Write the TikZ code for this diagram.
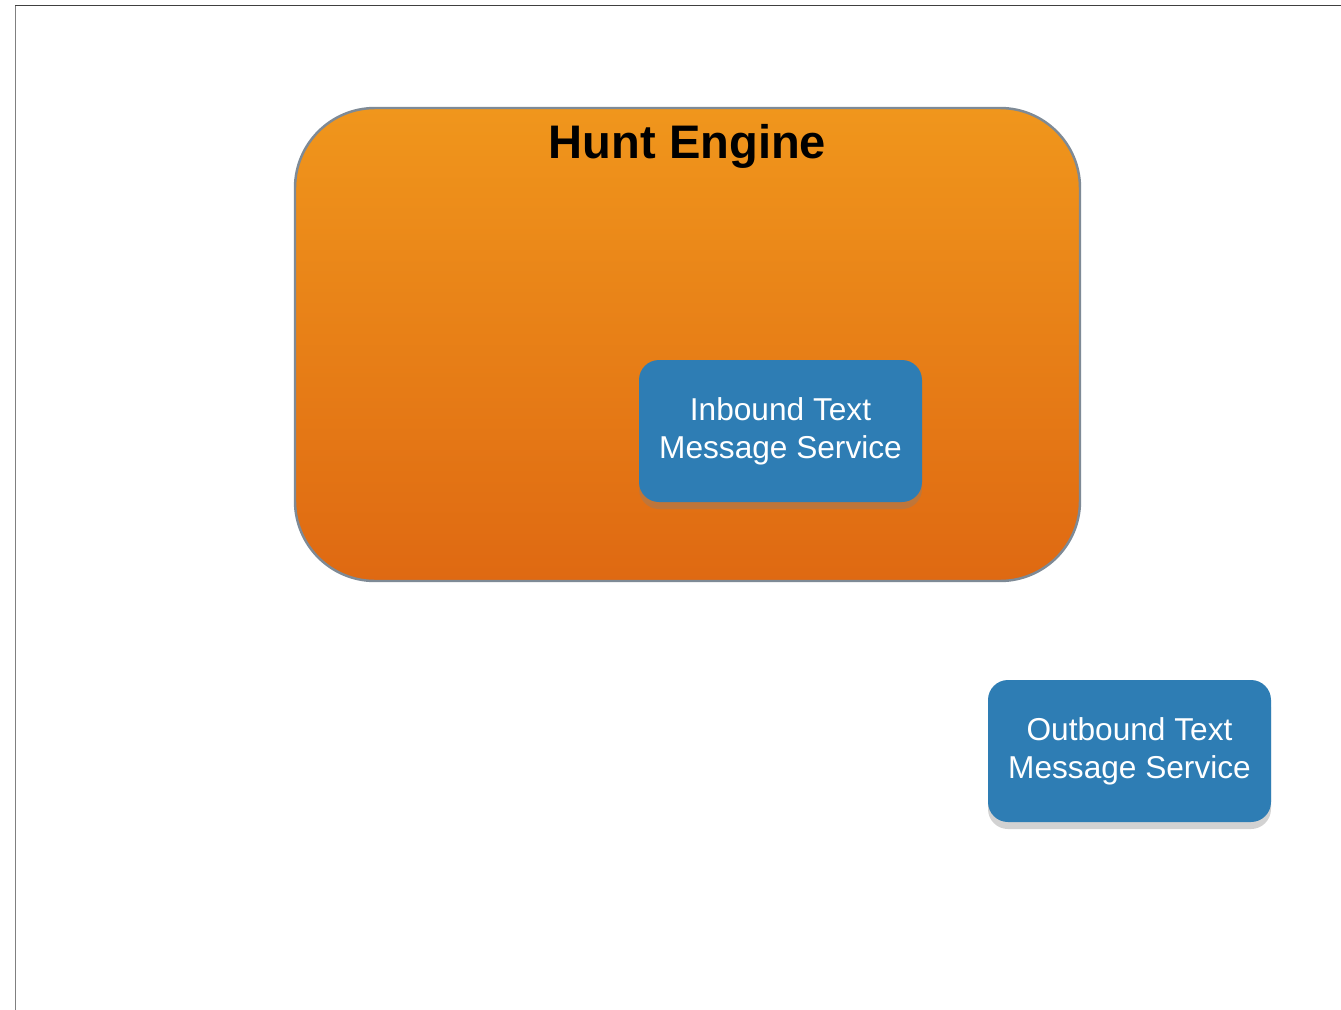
\documentclass[tikz,border=0pt]{standalone}
\usepackage{fontspec}
\setmainfont{Liberation Sans}
\usepackage{tikz}
\usetikzlibrary{positioning,calc,shadows}
\definecolor{engineTop}{HTML}{F0961C}
\definecolor{engineBottom}{HTML}{DF6912}
\definecolor{engineBorder}{HTML}{7E8A96}
\definecolor{serviceBlue}{HTML}{2E7DB4}
\tikzstyle{line} = [draw,line width=0.5pt]
\tikzstyle{engine} = [rounded corners=0.8cm, top color=engineTop, bottom color=engineBottom, draw=engineBorder, line width=0.7pt, minimum width=7.85cm, minimum height=4.73cm, inner sep=0pt]
\tikzstyle{service} = [rounded corners=0.2cm, fill=serviceBlue, text=white, minimum width=2.83cm, minimum height=1.42cm, align=center, font=\fontsize{9}{10.8}\selectfont, drop shadow={shadow xshift=0pt, shadow yshift=-2pt, opacity=.35}]

\begin{document}
\begin{tikzpicture}
  \useasboundingbox[fill=white] (0,0) rectangle (13.41,-10.10);
  % page frame
  \coordinate (frametl) at (0.155,-0.055);
  \coordinate (frametr) at (13.41,-0.055);
  \coordinate (framebl) at (0.155,-10.10);
  \path [line, draw=black!75] (frametl) -- (frametr);
  \path [line, draw=black!50] (frametl) -- (framebl);

  \node[engine] (engine) at (6.875,-3.445) {};
  \node[inner sep=0pt, font=\fontsize{13.4}{16}\selectfont\bfseries, below=0.17cm of engine.north] (enginetitle) {Hunt Engine};
  \node[service] (inbound) at (7.805,-4.31) {Inbound Text\\Message Service};
  \node[service] (outbound) at (11.295,-7.51) {Outbound Text\\Message Service};
\end{tikzpicture}
\end{document}
